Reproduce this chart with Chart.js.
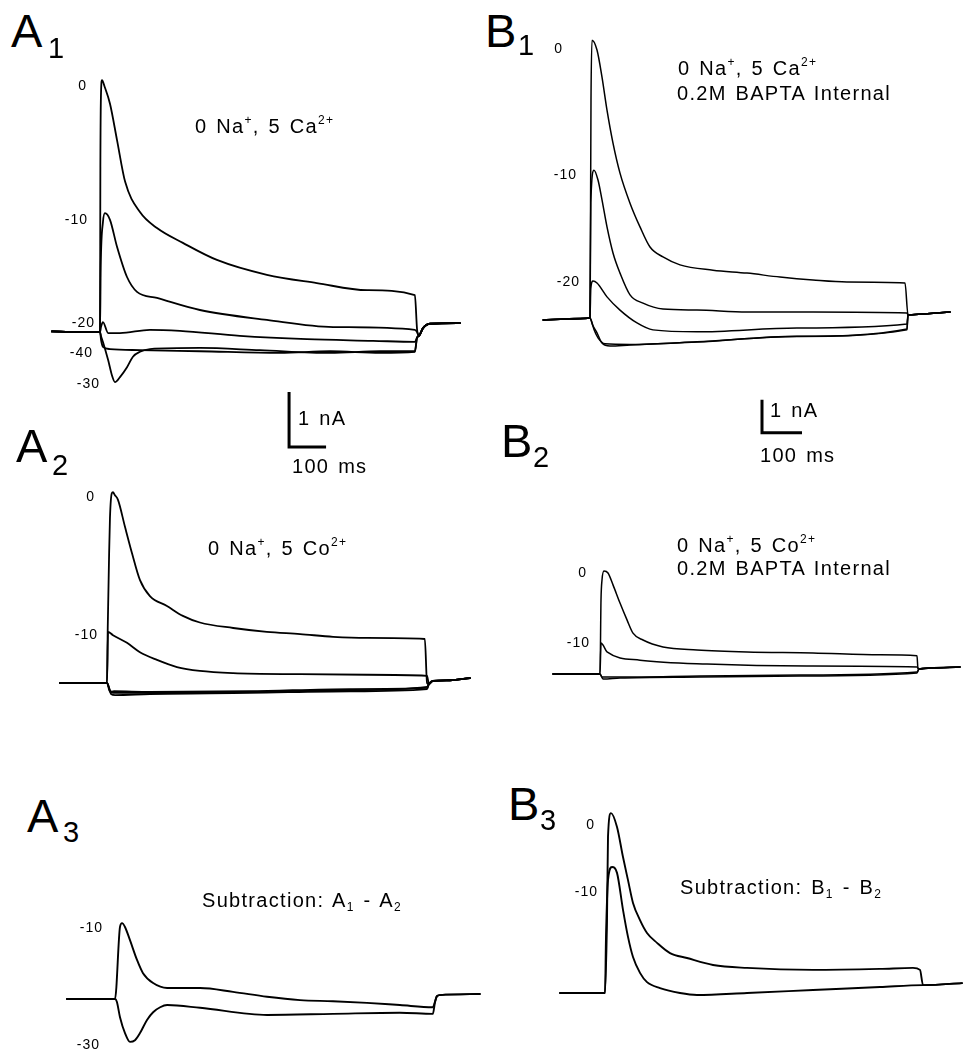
<!DOCTYPE html>
<html><head><meta charset="utf-8">
<script src="https://cdn.jsdelivr.net/npm/chart.js@4.4.1/dist/chart.umd.min.js"></script>
<style>
html,body{margin:0;padding:0;background:#fff;}
#page{position:relative;width:968px;height:1050px;overflow:hidden;background:#fff;}
#page canvas{position:absolute;}
.t{position:absolute;white-space:nowrap;line-height:1;color:#000;font-family:"Liberation Sans",Arial,sans-serif;}
.t sup{font-size:0.6em;position:relative;top:-0.75em;vertical-align:baseline;line-height:0;}
.t sub{font-size:0.6em;position:relative;top:0.3em;vertical-align:baseline;line-height:0;}
</style></head>
<body><div id="page"></div>
<script>
// ===== DATA: time in ms from pulse onset, current in nA (outward up) =====
// ---- A1 : 0 Na+, 5 Ca2+ ----
const A1_pre_t = [-130, -60, 0];
const A1_pre_i = [0.01, 0, 0];
const A1_tail_t = [862, 873, 892, 973];
const A1_tail_i = [-0.07, 0.07, 0.15, 0.16];
const A1_v0_t = [1, 3, 5.4, 13, 27, 46, 68, 108, 154, 224, 316, 451, 586, 722, 851, 857];
const A1_v0_i = [3.0, 4.4, 4.58, 4.45, 4.15, 3.49, 2.73, 2.18, 1.89, 1.62, 1.31, 1.04, 0.89, 0.76, 0.67, 0.04];
const A1_v10_t = [2, 8, 13.5, 27, 46, 73, 100, 154, 270, 451, 630, 851, 857];
const A1_v10_i = [1.2, 2.0, 2.16, 2.04, 1.55, 1.00, 0.73, 0.62, 0.40, 0.22, 0.09, 0.04, 0.0];
const A1_v20_t = [3, 8, 22, 54, 135, 216, 378, 559, 738, 851, 857];
const A1_v20_i = [0.1, 0.18, -0.02, -0.02, 0.04, 0.02, -0.07, -0.13, -0.16, -0.18, -0.1];
const A1_v40_t = [3, 8, 27, 108, 270, 486, 622, 757, 851, 857];
const A1_v40_i = [-0.15, -0.27, -0.31, -0.33, -0.35, -0.38, -0.35, -0.38, -0.36, -0.1];
const A1_v30_t = [3, 8, 22, 32, 40.5, 54, 73, 89, 108, 135, 270, 432, 622, 757, 851, 857];
const A1_v30_i = [-0.08, -0.18, -0.51, -0.78, -0.91, -0.82, -0.64, -0.45, -0.36, -0.31, -0.29, -0.33, -0.38, -0.35, -0.35, -0.1];

// ---- B1 : 0 Na+, 5 Ca2+, 0.2M BAPTA internal ----
const B1_pre_t = [-117, -60, 0];
const B1_pre_i = [-0.06, -0.03, 0];
const B1_tail_t = [798, 850, 900];
const B1_tail_i = [0.1, 0.14, 0.18];
const B1_v0_t = [2.5, 5, 17.5, 30, 42.5, 57.5, 75, 100, 125, 150, 182.5, 225, 307.5, 392.5, 475, 557.5, 642.5, 787.5, 795];
const B1_v0_i = [6.6, 8.42, 8.12, 7.30, 6.30, 5.30, 4.39, 3.48, 2.76, 2.15, 1.85, 1.61, 1.45, 1.36, 1.24, 1.15, 1.09, 1.06, 0.1];
const B1_v10_t = [2, 10, 20, 30, 42.5, 57.5, 75, 100, 132.5, 182.5, 267.5, 392.5, 557.5, 792.5, 795];
const B1_v10_i = [3.5, 4.48, 4.18, 3.58, 2.76, 1.97, 1.36, 0.70, 0.45, 0.27, 0.24, 0.18, 0.18, 0.15, 0.1];
const B1_v20_t = [2, 7.5, 17.5, 42.5, 75, 117.5, 157.5, 267.5, 517.5, 792.5, 795];
const B1_v20_i = [0.9, 1.12, 1.06, 0.64, 0.24, -0.15, -0.36, -0.42, -0.30, -0.18, 0.1];
const B1_low1_t = [6, 17.5, 30, 50, 100, 267.5, 517.5, 792.5, 795];
const B1_low1_i = [-0.2, -0.45, -0.76, -0.85, -0.82, -0.73, -0.55, -0.33, 0.1];
const B1_low2_t = [4, 10, 20, 37.5, 100, 267.5, 517.5, 792.5, 795];
const B1_low2_i = [-0.1, -0.35, -0.6, -0.78, -0.80, -0.72, -0.56, -0.36, 0.1];

// ---- A2 : 0 Na+, 5 Co2+ ----
const A2_pre_t = [-127, -60, 0];
const A2_pre_i = [0, 0, 0];
const A2_tail_t = [870, 881, 927, 981];
const A2_tail_i = [-0.02, 0.04, 0.05, 0.09];
const A2_v0_t = [2, 5.4, 8, 13, 16.2, 21, 29.7, 48.6, 67.6, 89.2, 116, 162, 205, 251, 341, 432, 522, 611, 703, 859, 865];
const A2_v0_i = [1.0, 2.24, 3.0, 3.45, 3.47, 3.42, 3.33, 2.84, 2.36, 1.87, 1.58, 1.40, 1.22, 1.10, 1.00, 0.93, 0.89, 0.84, 0.82, 0.80, 0.0];
const A2_v10_t = [2.7, 16.2, 54, 89, 135, 189, 251, 341, 522, 703, 865];
const A2_v10_i = [0.93, 0.87, 0.73, 0.56, 0.42, 0.29, 0.22, 0.18, 0.16, 0.15, 0.13];
const A2_v20_t = [8, 16, 116, 386, 657, 865];
const A2_v20_i = [-0.13, -0.18, -0.18, -0.16, -0.13, -0.07];
const A2_v30_t = [11, 22, 116, 386, 657, 865];
const A2_v30_i = [-0.20, -0.22, -0.20, -0.18, -0.15, -0.11];
const A2_v40_t = [8, 19, 116, 386, 657, 865];
const A2_v40_i = [-0.16, -0.15, -0.16, -0.15, -0.11, -0.09];

// ---- B2 : 0 Na+, 5 Co2+, 0.2M BAPTA internal ----
const B2_pre_t = [-117.5, -60, 0];
const B2_pre_i = [0, 0, 0];
const B2_tail_t = [797.5, 825, 900];
const B2_tail_i = [0.15, 0.18, 0.21];
const B2_v0_t = [2.5, 5, 10, 20, 32.5, 50, 67.5, 82.5, 107.5, 157.5, 242.5, 367.5, 532.5, 700, 792.5, 795];
const B2_v0_i = [2.24, 2.85, 3.12, 3.06, 2.70, 2.15, 1.64, 1.24, 1.03, 0.82, 0.73, 0.67, 0.64, 0.58, 0.55, 0.15];
const B2_v10_t = [2.5, 7.5, 17.5, 100, 267.5, 517.5, 792.5];
const B2_v10_i = [0.94, 0.88, 0.67, 0.42, 0.30, 0.24, 0.21];
const B2_low1_t = [7.5, 50, 250, 500, 792.5];
const B2_low1_i = [-0.15, -0.12, -0.09, -0.06, 0.03];
const B2_low2_t = [5, 50, 250, 500, 792.5];
const B2_low2_i = [-0.09, -0.09, -0.06, -0.03, 0.06];

// ---- A3 : subtraction A1 - A2 ----
const A3_pre_t = [-130, -60, 0];
const A3_pre_i = [0, 0, 0];
const A3_tail_t = [870, 878, 986];
const A3_tail_i = [0.05, 0.07, 0.09];
const A3_v10_t = [13.5, 19, 27, 40.5, 59.5, 75.7, 103, 141, 230, 319, 411, 500, 589, 681, 770, 859, 865];
const A3_v10_i = [1.31, 1.38, 1.31, 1.07, 0.71, 0.47, 0.29, 0.20, 0.20, 0.13, 0.04, -0.02, -0.04, -0.07, -0.11, -0.15, -0.05];
const A3_v30_t = [5, 13.5, 27, 40.5, 54, 67.6, 86.5, 103, 122, 141, 230, 411, 589, 770, 859, 865];
const A3_v30_i = [-0.05, -0.33, -0.62, -0.78, -0.75, -0.62, -0.38, -0.24, -0.15, -0.11, -0.16, -0.29, -0.27, -0.25, -0.27, -0.05];

// ---- B3 : subtraction B1 - B2 ----
const B3_pre_t = [-112.5, -50, 0];
const B3_pre_i = [0, 0, 0];
const B3_tail_t = [800, 892.5];
const B3_tail_i = [0.24, 0.30];
const B3_v0_t = [5, 7.5, 15, 30, 45, 57.5, 70, 87.5, 105, 130, 162.5, 205, 270, 355, 520, 687.5, 770, 787.5, 795];
const B3_v0_i = [2.21, 4.73, 5.45, 5.03, 4.12, 3.42, 2.73, 2.21, 1.82, 1.52, 1.21, 1.06, 0.85, 0.76, 0.70, 0.73, 0.76, 0.70, 0.24];
const B3_v10_t = [2.5, 7.5, 17.5, 30, 45, 57.5, 70, 87.5, 105, 137.5, 187.5, 230, 355, 520, 687.5, 795];
const B3_v10_i = [1.70, 3.42, 3.82, 3.64, 2.52, 1.70, 1.09, 0.61, 0.33, 0.15, 0, -0.06, 0, 0.09, 0.18, 0.24];

// ---- scale bars ----
const SCALE_NA = 1;
const SCALE_MS = 100;

// ===== LAYOUT (pixel positions, not data) =====
const page = document.getElementById('page');
const LAYOUT = {
  A1: {x0: 100, yb: 332, kx: 0.37, ky: 55, box: [40, 60, 430, 400], lw: 1.8},
  A2: {x0: 107, yb: 683, kx: 0.37, ky: 55, box: [50, 480, 430, 225], lw: 1.8},
  A3: {x0: 115, yb: 999, kx: 0.37, ky: 55, box: [55, 905, 430, 145], lw: 1.9},
  B1: {x0: 590, yb: 318, kx: 0.40, ky: 33, box: [530, 30, 430, 410], lw: 1.5},
  B2: {x0: 600, yb: 674, kx: 0.40, ky: 33, box: [540, 555, 428, 135], lw: 1.5},
  B3: {x0: 605, yb: 993, kx: 0.40, ky: 33, box: [550, 800, 418, 200], lw: 1.9}
};
// scale-bar corner in the host panel's data units (ms, nA)
const SCALEBAR_A = {panel: 'A1', t: 511, i: -2.09};
const SCALEBAR_B = {panel: 'B1', t: 430, i: -3.48};

function zip(t, i) { return t.map((v, k) => ({x: v, y: i[k]})); }
function trace(pre_t, pre_i, t, i, tail_t, tail_i) {
  return zip(pre_t, pre_i).concat(zip(t, i), zip(tail_t, tail_i));
}

const TRACES = {
  A1: [
    trace(A1_pre_t, A1_pre_i, A1_v0_t, A1_v0_i, A1_tail_t, A1_tail_i),
    trace(A1_pre_t, A1_pre_i, A1_v10_t, A1_v10_i, A1_tail_t, A1_tail_i),
    trace(A1_pre_t, A1_pre_i, A1_v20_t, A1_v20_i, A1_tail_t, A1_tail_i),
    trace(A1_pre_t, A1_pre_i, A1_v40_t, A1_v40_i, A1_tail_t, A1_tail_i),
    trace(A1_pre_t, A1_pre_i, A1_v30_t, A1_v30_i, A1_tail_t, A1_tail_i)
  ],
  B1: [
    trace(B1_pre_t, B1_pre_i, B1_v0_t, B1_v0_i, B1_tail_t, B1_tail_i),
    trace(B1_pre_t, B1_pre_i, B1_v10_t, B1_v10_i, B1_tail_t, B1_tail_i),
    trace(B1_pre_t, B1_pre_i, B1_v20_t, B1_v20_i, B1_tail_t, B1_tail_i),
    trace(B1_pre_t, B1_pre_i, B1_low1_t, B1_low1_i, B1_tail_t, B1_tail_i),
    trace(B1_pre_t, B1_pre_i, B1_low2_t, B1_low2_i, B1_tail_t, B1_tail_i)
  ],
  A2: [
    trace(A2_pre_t, A2_pre_i, A2_v0_t, A2_v0_i, A2_tail_t, A2_tail_i),
    trace(A2_pre_t, A2_pre_i, A2_v10_t, A2_v10_i, A2_tail_t, A2_tail_i),
    trace(A2_pre_t, A2_pre_i, A2_v20_t, A2_v20_i, A2_tail_t, A2_tail_i),
    trace(A2_pre_t, A2_pre_i, A2_v30_t, A2_v30_i, A2_tail_t, A2_tail_i),
    trace(A2_pre_t, A2_pre_i, A2_v40_t, A2_v40_i, A2_tail_t, A2_tail_i)
  ],
  B2: [
    trace(B2_pre_t, B2_pre_i, B2_v0_t, B2_v0_i, B2_tail_t, B2_tail_i),
    trace(B2_pre_t, B2_pre_i, B2_v10_t, B2_v10_i, B2_tail_t, B2_tail_i),
    trace(B2_pre_t, B2_pre_i, B2_low1_t, B2_low1_i, B2_tail_t, B2_tail_i),
    trace(B2_pre_t, B2_pre_i, B2_low2_t, B2_low2_i, B2_tail_t, B2_tail_i)
  ],
  A3: [
    trace(A3_pre_t, A3_pre_i, A3_v10_t, A3_v10_i, A3_tail_t, A3_tail_i),
    trace(A3_pre_t, A3_pre_i, A3_v30_t, A3_v30_i, A3_tail_t, A3_tail_i)
  ],
  B3: [
    trace(B3_pre_t, B3_pre_i, B3_v0_t, B3_v0_i, B3_tail_t, B3_tail_i),
    trace(B3_pre_t, B3_pre_i, B3_v10_t, B3_v10_i, B3_tail_t, B3_tail_i)
  ]
};

function scaleBar(sb) {
  return [
    {x: sb.t, y: sb.i + SCALE_NA},
    {x: sb.t, y: sb.i},
    {x: sb.t + SCALE_MS, y: sb.i}
  ];
}

function makePanel(name) {
  const L = LAYOUT[name];
  const c = document.createElement('canvas');
  c.width = L.box[2]; c.height = L.box[3];
  c.style.left = L.box[0] + 'px'; c.style.top = L.box[1] + 'px';
  page.appendChild(c);
  const xmin = (L.box[0] - L.x0) / L.kx;
  const xmax = (L.box[0] + L.box[2] - L.x0) / L.kx;
  const ymax = (L.yb - L.box[1]) / L.ky;
  const ymin = (L.yb - L.box[1] - L.box[3]) / L.ky;
  const datasets = TRACES[name].map(d => ({
    data: d, borderColor: '#000', borderWidth: L.lw, pointRadius: 0,
    cubicInterpolationMode: 'monotone', fill: false, clip: false,
    borderJoinStyle: 'round', borderCapStyle: 'round'
  }));
  [SCALEBAR_A, SCALEBAR_B].forEach(sb => {
    if (sb.panel === name) datasets.push({
      data: scaleBar(sb), borderColor: '#000', borderWidth: 3, pointRadius: 0,
      tension: 0, fill: false, clip: false, borderJoinStyle: 'miter', borderCapStyle: 'butt'
    });
  });
  new Chart(c, {
    type: 'line',
    data: {datasets},
    options: {
      responsive: false, animation: false, devicePixelRatio: 1, events: [],
      layout: {padding: 0},
      scales: {
        x: {type: 'linear', min: xmin, max: xmax, display: false},
        y: {type: 'linear', min: ymin, max: ymax, display: false}
      },
      plugins: {legend: {display: false}, tooltip: {enabled: false}}
    }
  });
}
['A1', 'B1', 'A2', 'B2', 'A3', 'B3'].forEach(makePanel);

// ===== TEXT =====
function addText(html, x, base, size, opts) {
  opts = opts || {};
  const d = document.createElement('div');
  d.className = 't';
  d.style.fontSize = size + 'px';
  if (opts.ls != null) d.style.letterSpacing = opts.ls + 'px';
  if (opts.ws != null) d.style.wordSpacing = opts.ws + 'px';
  d.style.left = '0px'; d.style.top = '0px';
  d.innerHTML = html + '<span class="bm" style="display:inline-block;width:0;height:0;vertical-align:baseline"></span>';
  page.appendChild(d);
  const mk = d.querySelector('.bm');
  const off = mk.getBoundingClientRect().top - d.getBoundingClientRect().top;
  d.style.top = (base - off) + 'px';
  if (opts.align === 'right') {
    const w = d.getBoundingClientRect().width;
    d.style.left = (x - w) + 'px';
  } else d.style.left = x + 'px';
}

// panel letters
const PANEL_LETTERS = [
  ['A', '1', 11, 47, 48, 58], ['B', '1', 485, 47, 518, 55],
  ['A', '2', 16, 462, 52, 475], ['B', '2', 501, 457, 533, 467],
  ['A', '3', 27, 832, 63, 842], ['B', '3', 508, 820, 540, 830]
];
PANEL_LETTERS.forEach(p => {
  addText(p[0], p[2], p[3], 47);
  addText(p[1], p[4], p[5], 29);
});

// condition captions
const TS = {ls: 1.3, ws: 2};
addText('0 Na<sup>+</sup>, 5 Ca<sup>2+</sup>', 195, 133, 20, TS);
addText('0 Na<sup>+</sup>, 5 Ca<sup>2+</sup>', 678, 75, 20, TS);
addText('0.2M BAPTA Internal', 677, 100, 20, TS);
addText('0 Na<sup>+</sup>, 5 Co<sup>2+</sup>', 208, 555, 20, TS);
addText('0 Na<sup>+</sup>, 5 Co<sup>2+</sup>', 677, 552, 20, TS);
addText('0.2M BAPTA Internal', 677, 575, 20, TS);
addText('Subtraction: A<sub>1</sub> - A<sub>2</sub>', 202, 907, 20, TS);
addText('Subtraction: B<sub>1</sub> - B<sub>2</sub>', 680, 894, 20, TS);

// scale bar labels
addText('1 nA', 298, 425, 20, TS);
addText('100 ms', 292, 473, 20, TS);
addText('1 nA', 770, 417, 20, TS);
addText('100 ms', 760, 462, 20, TS);

// step-potential labels (mV)
const VLABELS = [
  ['0', 87, 90], ['-10', 88, 224], ['-20', 95, 327], ['-40', 93, 357], ['-30', 100, 388],
  ['0', 563, 53], ['-10', 577, 179], ['-20', 580, 286],
  ['0', 95, 501], ['-10', 98, 639],
  ['0', 587, 577], ['-10', 590, 647],
  ['-10', 103, 932], ['-30', 100, 1049],
  ['0', 595, 829], ['-10', 598, 896]
];
VLABELS.forEach(v => addText(v[0], v[1], v[2], 14, {ls: 1, align: 'right'}));
</script>
</body></html>
